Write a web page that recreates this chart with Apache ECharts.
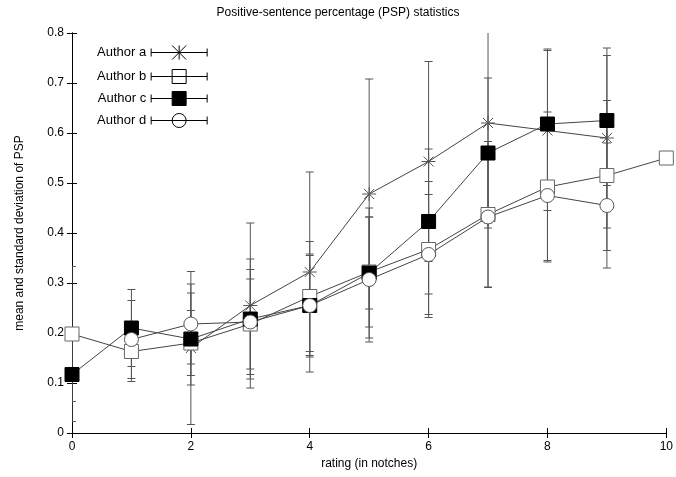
<!DOCTYPE html>
<html>
<head>
<meta charset="UTF-8">
<title>PSP statistics</title>
<script src="https://cdn.jsdelivr.net/npm/echarts@6/dist/echarts.min.js"></script>
<style>html,body{margin:0;padding:0;background:#fff}</style>
</head>
<body>
<div id="main" style="width:676px;height:477px;"></div>
<script>
// ratings (x) for each author
var xA = [2, 3, 4, 5, 6, 7, 8, 9];
var xB = [0, 1, 2, 3, 4, 5, 6, 7, 8, 9, 10];
var xC = [0, 1, 2, 3, 4, 5, 6, 7, 8, 9];
var xD = [1, 2, 3, 4, 5, 6, 7, 8, 9];
// mean PSP
var meanA = [0.170, 0.255, 0.322, 0.478, 0.543, 0.620, 0.605, 0.590];
var meanB = [0.198, 0.163, 0.180, 0.218, 0.273, 0.322, 0.367, 0.437, 0.492, 0.515, 0.550];
var meanC = [0.117, 0.210, 0.188, 0.228, 0.255, 0.320, 0.423, 0.560, 0.618, 0.625];
var meanD = [0.187, 0.218, 0.222, 0.255, 0.307, 0.357, 0.432, 0.475, 0.455];
// standard deviation
var sdA = [0.153, 0.165, 0.200, 0.230, 0.200, 0.200, 0.160, 0.180];
var sdB = [0.135, 0.060, 0.065, 0.090, 0.110, 0.110, 0.136, 0.146, 0.150, 0.150, 0.000];
var sdC = [0.094, 0.077, 0.092, 0.120, 0.103, 0.130, 0.145, 0.150, 0.150, 0.130];
var sdD = [0.078, 0.080, 0.105, 0.100, 0.125, 0.120, 0.140, 0.130, 0.125];

var names = ['Author a', 'Author b', 'Author c', 'Author d'];

function pts(xs, ms) { return xs.map(function (x, i) { return [x, ms[i]]; }); }
function bars(xs, ms, sd) { return xs.map(function (x, i) { return [x, ms[i] - sd[i], ms[i] + sd[i]]; }); }

var starPath = 'path://M-7,0L7,0M0,-7L0,7M-5,-5L5,5M-5,5L5,-5';
var lineSample = 'M0,7L56,7M0,3L0,11M56,3L56,11';
var icons = [
  'path://' + lineSample + 'M21,0L35,14M21,14L35,0M28,0L28,14',
  'path://' + lineSample + 'M21,0L35,0L35,14L21,14Z',
  'path://' + lineSample + 'M21,0L35,0L35,14L21,14Z',
  'path://' + lineSample + 'M35,7A7,7 0 1 1 21,7A7,7 0 1 1 35,7Z'
];

function errSeries(data) {
  return {
    type: 'custom',
    silent: true,
    clip: true,
    data: data,
    z: 1,
    renderItem: function (params, api) {
      var lo = api.coord([api.value(0), api.value(1)]);
      var hi = api.coord([api.value(0), api.value(2)]);
      var w = 4;
      var st = { stroke: '#555', lineWidth: 1 };
      return {
        type: 'group',
        children: [
          { type: 'line', shape: { x1: lo[0], y1: lo[1], x2: hi[0], y2: hi[1] }, style: st },
          { type: 'line', shape: { x1: lo[0] - w, y1: lo[1], x2: lo[0] + w, y2: lo[1] }, style: st },
          { type: 'line', shape: { x1: hi[0] - w, y1: hi[1], x2: hi[0] + w, y2: hi[1] }, style: st }
        ]
      };
    }
  };
}

function lineSeries(name, data, symbol, fill) {
  return {
    name: name, type: 'line', data: data, z: 3,
    symbol: symbol, symbolSize: 14,
    lineStyle: { color: '#444', width: 1 },
    itemStyle: { color: fill, borderColor: symbol === 'rect' ? '#000' : '#555', borderWidth: 1 }
  };
}

var myChart = echarts.init(document.getElementById('main'));
var ax = { color: '#000', fontSize: 12, fontFamily: 'Liberation Sans, Arial, sans-serif' };
var option = {
  animation: false,
  title: { text: 'Positive-sentence percentage (PSP) statistics', left: 'center', top: 2,
    textStyle: { fontSize: 12, fontWeight: 'normal', color: '#000', fontFamily: ax.fontFamily } },
  grid: { left: 72, right: 6, top: 33, bottom: 44 },
  legend: {
    left: 92, top: 38, orient: 'vertical', align: 'right', itemGap: 5,
    itemWidth: 56, itemHeight: 14,
    textStyle: { fontSize: 13, color: '#000', fontFamily: ax.fontFamily },
    data: names.map(function (n, i) {
      return { name: n, icon: icons[i],
        itemStyle: { color: i === 2 ? '#000' : 'none', borderColor: '#000', borderWidth: 1 } };
    })
  },
  xAxis: [{
    type: 'value', min: 0, max: 10, interval: 2,
    name: 'rating (in notches)', nameLocation: 'middle', nameGap: 24, nameTextStyle: ax,
    axisLine: { lineStyle: { color: '#000' } }, axisTick: { inside: true, lineStyle: { color: '#000' } },
    axisLabel: ax, splitLine: { show: false }
  }, {
    type: 'value', min: 0, max: 10, interval: 2, position: 'top',
    axisLine: { lineStyle: { color: '#000' } }, axisTick: { inside: true, lineStyle: { color: '#000' } },
    axisLabel: { show: false }, splitLine: { show: false }
  }],
  yAxis: [{
    type: 'value', min: 0, max: 0.8, interval: 0.1,
    name: 'mean and standard deviation of PSP', nameLocation: 'middle', nameGap: 46, nameTextStyle: ax,
    axisLine: { show: true, lineStyle: { color: '#000' } }, axisTick: { show: true, inside: true, lineStyle: { color: '#000' } },
    axisLabel: ax, splitLine: { show: false }
  }, {
    type: 'value', min: 0, max: 0.8, interval: 0.1, position: 'right',
    axisLine: { show: true, lineStyle: { color: '#000' } }, axisTick: { show: true, inside: true, lineStyle: { color: '#000' } },
    axisLabel: { show: false }, splitLine: { show: false }
  }],
  series: [
    errSeries(bars(xA, meanA, sdA)),
    errSeries(bars(xB, meanB, sdB)),
    errSeries(bars(xC, meanC, sdC)),
    errSeries(bars(xD, meanD, sdD)),
    lineSeries(names[0], pts(xA, meanA), starPath, 'none'),
    lineSeries(names[1], pts(xB, meanB), 'rect', '#fff'),
    lineSeries(names[2], pts(xC, meanC), 'rect', '#000'),
    lineSeries(names[3], pts(xD, meanD), 'circle', '#fff')
  ]
};
option.series[5].itemStyle.borderColor = '#666';
myChart.setOption(option);
</script>
</body>
</html>
